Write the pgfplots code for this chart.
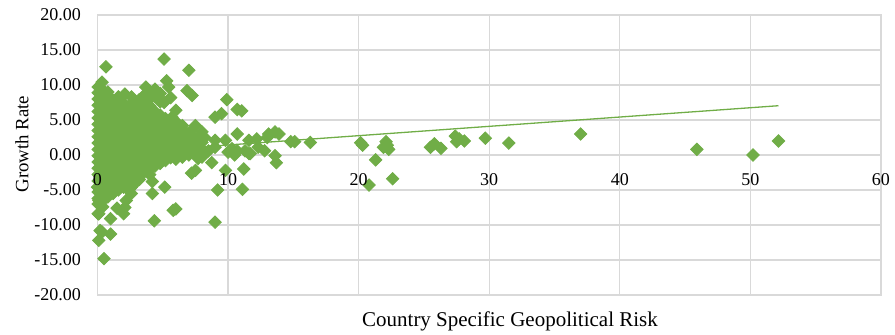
\documentclass[border=0pt]{standalone}
\usepackage{fontspec}
\setmainfont{Liberation Serif}
\usepackage{pgfplots}
\pgfplotsset{compat=1.18}
\definecolor{exgreen}{HTML}{70AD47}
\definecolor{gridc}{HTML}{D9D9D9}
\pgfplotsset{
 common/.style={
  at={(0,0)}, anchor=south west,
  width=391.75pt, height=140pt, scale only axis,
  xmin=0, xmax=60, ymin=-20, ymax=20,
  xtick={0,10,...,60}, ytick={-20,-15,...,20},
  major tick length=0pt,
  /pgf/number format/assume math mode=true,
  tick label style={font=\fontsize{9}{11}\selectfont, text=black},
 },
}
\begin{document}
\begin{tikzpicture}
\useasboundingbox (-48.75pt,-20pt) rectangle (398.75pt,147.5pt);
\begin{axis}[
 common,
 grid=major, major grid style={gridc, line width=0.6pt},
 axis line style={gridc, line width=0.6pt},
 clip=false,
 xticklabels={},
 y tick label style={/pgf/number format/fixed, /pgf/number format/fixed zerofill, /pgf/number format/precision=2, xshift=-4.75pt},
]
\addplot[exgreen, line width=0.65pt] coordinates {(0,0.1) (52.15,7.04)};
\addplot[only marks, mark=square*, mark size=2.2pt, color=exgreen, mark options={rotate=45, fill=exgreen, draw=exgreen}] coordinates {
(0.05,-8.4) (0.05,-7.0) (0.05,-6.2) (0.05,-5.3) (0.05,-4.6) (0.05,-3.7) (0.05,-2.8) (0.05,-1.9) (0.05,-1.0) (0.05,-0.1) (0.05,0.8) (0.05,1.7) (0.05,2.6) (0.05,3.5) (0.05,4.4) (0.05,5.3) (0.05,6.2) (0.05,7.1) (0.05,8.0) (0.05,8.9) (0.05,9.7)
(0.4,-7.4) (0.4,-6.5) (0.4,-5.6) (0.4,-4.2) (0.4,-3.3) (0.4,-2.4) (0.4,-1.5) (0.4,-0.6) (0.4,0.3) (0.4,1.2) (0.4,2.1) (0.4,3.0) (0.4,3.9) (0.4,4.8) (0.4,5.7) (0.4,6.6) (0.4,7.5) (0.4,8.4) (0.4,9.3) (0.35,10.4)
(0.8,-6.0) (0.8,-5.0) (0.8,-4.0) (0.8,-3.0) (0.8,-2.0) (0.8,-1.0) (0.8,0.0) (0.8,1.0) (0.8,2.0) (0.8,3.0) (0.8,4.0) (0.8,5.0) (0.8,6.0) (0.8,7.0) (0.8,8.0) (0.8,9.0)
(1.2,-5.5) (1.2,-4.5) (1.2,-3.5) (1.2,-2.5) (1.2,-1.5) (1.2,-0.5) (1.2,0.5) (1.2,1.5) (1.2,2.5) (1.2,3.5) (1.2,4.5) (1.2,5.5) (1.2,6.5) (1.2,7.5) (1.1,8.0)
(1.6,-5.0) (1.6,-4.0) (1.6,-3.0) (1.6,-2.0) (1.6,-1.0) (1.6,0.0) (1.6,1.0) (1.6,2.0) (1.6,3.0) (1.6,4.0) (1.6,5.0) (1.6,6.0) (1.6,7.0) (1.6,8.3)
(2.0,-4.6) (2.0,-3.6) (2.0,-2.6) (2.0,-1.6) (2.0,-0.6) (2.0,0.4) (2.0,1.4) (2.0,2.4) (2.0,3.4) (2.0,4.4) (2.0,5.4) (2.0,6.4) (2.0,7.4) (2.1,8.7)
(2.4,-5.0) (2.4,-4.0) (2.4,-3.0) (2.4,-2.0) (2.4,-1.0) (2.4,0.0) (2.4,1.0) (2.4,2.0) (2.4,3.0) (2.4,4.0) (2.4,5.0) (2.4,6.0) (2.4,7.0) (2.6,8.3)
(2.8,-4.2) (2.8,-3.3) (2.8,-2.4) (2.8,-1.4) (2.8,-0.5) (2.8,0.5) (2.8,1.5) (2.8,2.5) (2.8,3.5) (2.8,4.5) (2.8,5.5) (2.8,6.5) (2.8,7.4)
(3.2,-3.5) (3.2,-2.6) (3.2,-1.8) (3.2,-0.9) (3.2,0.0) (3.2,1.0) (3.2,2.0) (3.2,3.0) (3.2,4.0) (3.2,5.0) (3.2,6.0) (3.2,7.0) (3.2,7.9)
(3.6,-2.4) (3.6,-1.5) (3.6,-0.5) (3.6,0.5) (3.6,1.5) (3.6,2.5) (3.6,3.5) (3.6,4.5) (3.6,5.5) (3.6,6.5) (3.6,7.5) (3.6,8.6) (3.7,9.7)
(4.0,-2.0) (4.0,-1.0) (4.0,0.0) (4.0,1.0) (4.0,2.0) (4.0,3.0) (4.0,4.0) (4.0,5.0) (4.0,6.0) (4.0,7.0) (4.0,8.0) (4.0,9.0)
(4.4,-1.6) (4.4,-0.6) (4.4,0.4) (4.4,1.4) (4.4,2.4) (4.4,3.4) (4.4,4.4) (4.4,5.4) (4.4,6.2) (4.4,8.4) (4.6,8.8) (4.4,9.4)
(4.8,-1.2) (4.8,-0.2) (4.8,0.8) (4.8,1.8) (4.8,2.8) (4.8,3.8) (4.8,4.8) (4.8,5.7) (4.8,7.6) (4.8,8.8)
(5.2,-0.8) (5.2,0.2) (5.2,1.2) (5.2,2.2) (5.2,3.2) (5.2,4.2) (5.2,5.2) (5.1,7.5) (5.45,9.7) (5.3,10.6)
(5.6,-0.4) (5.6,0.6) (5.6,1.6) (5.6,2.6) (5.6,3.6) (5.6,4.6) (5.7,5.4) (5.6,8.2)
(6.0,-0.6) (6.0,0.3) (6.0,1.2) (6.0,2.1) (6.0,3.0) (6.0,3.9) (6.0,4.8) (6.0,6.4)
(6.5,-0.3) (6.5,0.7) (6.5,1.7) (6.5,2.7) (6.5,3.7) (6.5,4.2)
(7.0,0.0) (7.0,1.0) (7.0,2.0) (7.0,3.0) (7.2,3.5)
(7.5,0.3) (7.5,1.3) (7.5,2.3) (7.5,4.2) (8.0,0.8) (8.0,1.8) (8.0,3.3)
(0.65,12.6) (5.1,13.7) (7.0,12.1) (6.85,9.2) (7.25,8.5) (9.9,7.9) (10.7,6.5) (11.05,6.3)
(9.0,5.4) (9.5,5.9) (7.75,2.5) (8.2,2.5) (10.7,3.0) (9.0,2.1) (9.8,2.1) (11.6,2.1)
(13.1,3.0) (13.6,3.3) (13.9,3.0) (12.2,2.3) (13.0,2.5) (14.8,1.9) (15.1,1.9) (16.3,1.8)
(12.3,1.1) (11.3,0.6) (10.3,0.9) (9.0,1.1) (8.5,0.6) (13.6,-0.1) (13.7,-1.1) (11.2,-2.0)
(9.8,-2.2) (8.75,-1.1) (7.5,-2.2) (7.2,-2.6) (7.7,-0.5) (9.2,-5.0) (11.1,-4.9) (9.0,-9.6)
(8.0,-0.3) (10.0,0.4) (10.5,0.0) (11.6,0.2) (12.8,0.6) (11.7,0.2) (10.7,0.6)
(4.0,-2.8) (4.2,-3.8) (5.15,-4.6) (4.2,-5.5) (5.8,-7.9) (6.0,-7.7) (4.35,-9.4)
(0.5,-14.8) (0.1,-12.2) (0.35,-11.0) (1.0,-11.3) (0.2,-10.8) (1.0,-9.1) (0.1,-8.4)
(2.0,-8.4) (1.5,-7.6) (2.1,-7.5) (0.1,-6.5) (0.5,-6.3) (2.6,-5.5) (2.2,-6.5) (2.6,-4.6) (0.0,-4.6)
(20.15,1.76) (20.3,1.4) (22.1,1.9) (22.2,1.4) (21.9,1.1) (22.3,0.8) (21.3,-0.7) (22.6,-3.4)
(20.8,-4.3) (25.5,1.1) (25.8,1.6) (26.3,0.95) (27.4,2.7) (27.5,1.9) (28.1,2.0) (27.7,2.3)
(29.7,2.4) (31.5,1.7) (37.0,3.0) (45.9,0.8) (50.2,0.0) (52.15,2.0)
};
\node[font=\fontsize{10.5}{12.5}\selectfont, anchor=base, inner sep=0] at (axis description cs:0.5265,-0.1132) {Country Specific Geopolitical Risk};
\node[font=\fontsize{9.4}{11}\selectfont, rotate=90, anchor=north, inner sep=0] at (axis description cs:-0.1053,0.539) {Growth Rate};
\end{axis}
\begin{axis}[
 common,
 axis line style={draw=none},
 yticklabels={},
 x tick label style={yshift=64.5pt},
]
\end{axis}
\end{tikzpicture}
\end{document}
